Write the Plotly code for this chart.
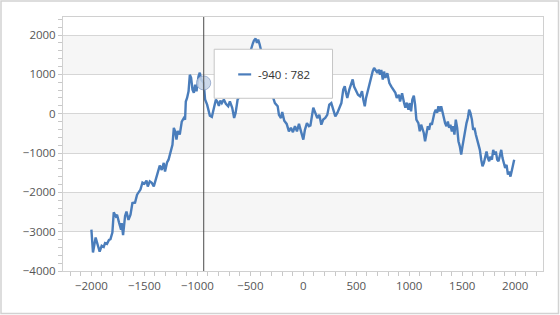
import plotly.graph_objects as go

# ---- data ----
x_values = [
    -2000, -1985, -1960, -1947, -1922, -1903, -1884, -1871, -1853, -1834, -1820, -1802, -1789, -1770, -1758,
    -1739, -1720, -1714, -1701, -1682, -1669, -1650, -1631, -1613, -1588, -1569, -1556, -1537, -1518, -1499,
    -1480, -1468, -1449, -1430, -1411, -1392, -1374, -1355, -1336, -1317, -1305, -1286, -1272, -1254, -1235,
    -1222, -1210, -1197, -1185, -1166, -1147, -1128, -1116, -1109, -1097, -1083, -1071, -1059, -1046, -1033,
    -1021, -1008, -989, -977, -964, -940,
    -927, -908, -894, -882, -863, -851, -838, -825, -811, -797, -783, -769, -750, -731, -709, -693, -671,
    -653, -639, -620, -608,
    -589, -570, -551, -533, -514, -495, -476,
    -466, -450, -438, -426, -413,
    -400, -381, -362, -343, -325, -306, -284,
    -268, -242, -230, -211, -199, -180, -157, -136, -117, -98, -79, -60, -41, -22, 0, 15, 34, 53, 67, 94,
    113, 132, 151, 170, 188, 207, 226, 245, 264, 283, 302, 321, 340, 359, 377, 391, 403, 415, 434, 453,
    466, 479, 497, 516, 535, 554, 566, 580, 592, 611, 623, 642, 655, 668, 686, 699, 712, 724, 736, 750,
    762, 774, 793, 812, 831, 850, 869, 882, 901, 913, 932, 951, 963,
    976, 992, 1005, 1017, 1029, 1043, 1055, 1067, 1086, 1099, 1112, 1124, 1137, 1149, 1162, 1175, 1187,
    1200, 1213, 1225, 1237, 1250, 1263, 1275, 1288, 1301, 1313, 1326, 1338, 1351, 1364, 1376, 1388, 1402,
    1414, 1426, 1439, 1452, 1464, 1477, 1490, 1502, 1515, 1527, 1540, 1553, 1565, 1577, 1591, 1603, 1615,
    1628, 1641, 1653, 1666, 1679, 1691, 1704, 1716, 1729, 1742, 1754, 1766, 1780, 1792, 1805, 1817, 1830,
    1842, 1855, 1868, 1880, 1893, 1905, 1918, 1931, 1943, 1955, 1969, 1981, 1990,
]
y_values = [
    -2950, -3530, -3150, -3290, -3510, -3360, -3390, -3290, -3310, -3210, -3190, -3020, -2510, -2610, -2570,
    -2770, -2950, -2780, -3090, -2600, -2490, -2700, -2570, -2270, -2260, -2060, -2000, -1930, -1750, -1780,
    -1700, -1850, -1720, -1760, -1850, -1680, -1510, -1320, -1430, -1250, -1470, -1240, -1170, -1000, -790,
    -360, -450, -660, -440, -530, -200, -110, -150, 310, 400, 570, 990, 910, 610, 530,
    740, 570, 950, 1040, 870, 782,
    360, 230, 100, -50, -80, 50, 190, 360, 300, 200, 330, 270, 360, 250, 190, 310, 150,
    -110, 20, 360, 410,
    610, 800, 1120, 1280, 1500, 1620, 1790,
    1860, 1910, 1800, 1880, 1770,
    1620, 1450, 1200, 1010, 760, 560, 400,
    270, 190, -30, -110, 40, -180, -260, -450, -360, -470, -320, -450, -260, -450, -660, -410, -240, -320, -300, 150,
    20, -110, -30, -280, -150, -110, -30, 230, 270, 100, -70, 20, 150, 270, 610, 700, 530, 400, 610, 740,
    870, 690, 570, 480, 440, 570, 360, 190, 400, 610, 700, 910, 1080, 1160, 1080, 1040, 1120, 990, 1110, 870,
    1070, 910, 1030, 780, 690, 610, 530, 400, 480, 310, 520, 270, 150,
    280, 100, 270, 60, 360, 460, 230, -150, -240, -450, -280, -360, -490, -700, -450, -320, -410,
    -240, -280, -70, 20, 100, 20, 190, 60, 190, 20, -150, -240, -320, -200, -360, -280, -450,
    -320, -530, -150, -360, -700, -830, -1040, -830, -620, -360, -240, -110, 100, 20, -150, -410, -360,
    -530, -660, -790, -920, -1170, -1340, -1250, -1090, -960, -1130, -1210, -1090, -1170, -920, -1040, -960, -1170,
    -1210, -1040, -920, -1130, -1300, -1380, -1300, -1550, -1470, -1600, -1430, -1210, -1170,
]
assert len(x_values) == len(y_values)

hover_x = [-940]
hover_y = [782]
tooltip_text = "-940 : 782"

x_tick_values = [-2000, -1500, -1000, -500, 0, 500, 1000, 1500, 2000]
y_tick_values = [-4000, -3000, -2000, -1000, 0, 1000, 2000]
band_ranges = [(1000, 2000), (-1000, 0), (-3000, -2000)]

LINE_COLOR = "#4a7dbb"
FONT = "Open Sans"

fig = go.Figure()
fig.add_trace(go.Scatter(
    x=x_values, y=y_values, mode="lines",
    line=dict(color=LINE_COLOR, width=2.4),
    hoverinfo="skip", showlegend=False,
))
fig.add_trace(go.Scatter(
    x=hover_x, y=hover_y, mode="markers",
    marker=dict(size=14, color="rgba(196,210,230,0.85)",
                line=dict(color="rgba(150,170,205,0.9)", width=1)),
    hoverinfo="skip", showlegend=False,
))

shapes = []
for lo, hi in band_ranges:
    shapes.append(dict(type="rect", xref="paper", yref="y", x0=0, x1=1, y0=lo, y1=hi,
                       fillcolor="#f6f6f6", line=dict(width=0), layer="below"))
# crosshair
shapes.append(dict(type="line", xref="x", yref="paper", x0=hover_x[0], x1=hover_x[0], y0=0, y1=1,
                   line=dict(color="#4a4a4a", width=1), layer="above"))
# tooltip box
shapes.append(dict(type="rect", xref="paper", yref="paper", x0=0.315, x1=0.5615, y0=0.680, y1=0.873,
                   fillcolor="white", line=dict(color="#c6c6c6", width=1), layer="above"))
shapes.append(dict(type="line", xref="paper", yref="paper", x0=0.365, x1=0.392, y0=0.774, y1=0.774,
                   line=dict(color=LINE_COLOR, width=2.2), layer="above"))
# outer frame
shapes.append(dict(type="rect", xref="paper", yref="paper",
                   x0=(1 - 63) / 480, x1=(558.5 - 63) / 480,
                   y0=(271 - 313.5) / 254, y1=(271 - 1) / 254,
                   line=dict(color="#d2d2d2", width=1.5), fillcolor="rgba(0,0,0,0)", layer="above"))

fig.update_layout(
    width=560, height=315,
    margin=dict(l=63, r=17, t=17, b=44),
    paper_bgcolor="white", plot_bgcolor="white",
    font=dict(family=FONT, size=11.5, color="#555555"),
    shapes=shapes,
    annotations=[dict(xref="paper", yref="paper", x=0.4015, y=0.774, text=tooltip_text,
                      showarrow=False, xanchor="left", yanchor="middle",
                      font=dict(family=FONT, size=11.5, color="#333333"))],
)
fig.update_xaxes(
    range=[-2268, 2262], tickvals=x_tick_values, showgrid=False, zeroline=False,
    showline=True, linecolor="#d0d0d0", linewidth=1, mirror=True,
    ticks="outside", ticklen=4, tickcolor="#c8c8c8",
    minor=dict(dtick=100, tick0=0, ticks="outside", ticklen=4, tickcolor="#c8c8c8", showgrid=False),
)
fig.update_yaxes(
    range=[-4000, 2458], tickvals=y_tick_values, showgrid=True, gridcolor="#d6d6d6", gridwidth=1,
    zeroline=False, showline=True, linecolor="#d0d0d0", linewidth=1, mirror=True,
    ticks="outside", ticklen=4, tickcolor="#c8c8c8",
    minor=dict(dtick=200, tick0=0, ticks="outside", ticklen=4, tickcolor="#c8c8c8", showgrid=False),
)

fig.write_html("out.html")
